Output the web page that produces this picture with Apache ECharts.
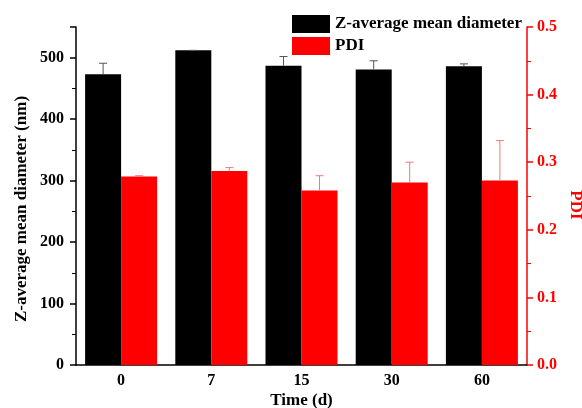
<!DOCTYPE html>
<html>
<head>
<meta charset="utf-8">
<script src="https://cdn.jsdelivr.net/npm/echarts@6/dist/echarts.min.js"></script>
<style>
  html, body { margin: 0; padding: 0; background: #fff; }
  #chart { width: 582px; height: 408px; }
</style>
</head>
<body>
<div id="chart"></div>
<script>
var days = ['0', '7', '15', '30', '60'];
var diameter = [473, 512, 487, 481, 486];
var diameterErr = [18, 0, 15, 14, 4];
var pdi = [0.279, 0.287, 0.258, 0.270, 0.273];
var pdiErr = [0.001, 0.005, 0.022, 0.030, 0.059];

var font = 'Liberation Serif';
var barW = 36;

function errData(vals, errs) {
  return vals.map(function (v, i) { return [i, v, errs[i]]; });
}

// side: -1 = left bar of the pair, 1 = right bar
function errorItem(side, color) {
  return function (params, api) {
    var i = api.value(0);
    var base = api.coord([i, api.value(1)]);
    var top = api.coord([i, api.value(1) + api.value(2)]);
    var x = base[0] + side * barW / 2;
    return {
      type: 'group',
      children: [
        { type: 'line', shape: { x1: x, y1: base[1], x2: x, y2: top[1] }, style: { stroke: color, lineWidth: 1 } },
        { type: 'line', shape: { x1: x - 4, y1: top[1], x2: x + 4, y2: top[1] }, style: { stroke: color, lineWidth: 1 } }
      ]
    };
  };
}

var chart = echarts.init(document.getElementById('chart'));
chart.setOption({
  animation: false,
  textStyle: { fontFamily: font },
  grid: { left: 76, right: 55, top: 27, bottom: 43, containLabel: false, outerBoundsMode: 'none' },
  legend: {
    data: ['Z-average mean diameter', 'PDI'],
    orient: 'vertical',
    left: 292,
    top: 15,
    padding: 0,
    itemWidth: 38,
    itemHeight: 18,
    itemGap: 4,
    icon: 'rect',
    textStyle: { fontFamily: font, fontSize: 17, fontWeight: 'bold', color: '#000' }
  },
  xAxis: [
    {
      type: 'category',
      data: days,
      position: 'bottom',
      name: 'Time (d)',
      nameLocation: 'middle',
      nameGap: 27,
      nameMoveOverlap: false,
      nameTextStyle: { fontFamily: font, fontSize: 17, fontWeight: 'bold', color: '#000' },
      axisLine: { lineStyle: { color: '#000', width: 1.5 } },
      axisTick: { alignWithLabel: true, length: 6, lineStyle: { color: '#000', width: 1.5 } },
      axisLabel: { fontFamily: font, fontSize: 16, fontWeight: 'bold', color: '#000', margin: 8 }
    },
    {
      type: 'category',
      data: days,
      position: 'bottom',
      axisLine: { show: false },
      axisTick: { inside: true, length: 4, lineStyle: { color: '#000', width: 1.5 } },
      axisLabel: { show: false }
    }
  ],
  yAxis: [
    {
      type: 'value',
      min: 0,
      max: 550,
      interval: 100,
      name: 'Z-average mean diameter (nm)',
      nameLocation: 'middle',
      nameGap: 46,
      nameMoveOverlap: false,
      nameTextStyle: { fontFamily: font, fontSize: 17, fontWeight: 'bold', color: '#000', padding: [0, 26, 0, 0] },
      axisLine: { show: true, lineStyle: { color: '#000', width: 1.5 } },
      axisTick: { show: true, length: 6, lineStyle: { color: '#000', width: 1.5 } },
      minorTick: { show: true, splitNumber: 2, length: 4, lineStyle: { color: '#000' } },
      axisLabel: { fontFamily: font, fontSize: 16, fontWeight: 'bold', color: '#000', margin: 12, showMaxLabel: false },
      splitLine: { show: false }
    },
    {
      type: 'value',
      min: 0,
      max: 0.5,
      interval: 0.1,
      position: 'right',
      name: 'PDI',
      nameLocation: 'middle',
      nameGap: 40,
      nameMoveOverlap: false,
      nameRotate: -90,
      nameTextStyle: { fontFamily: font, fontSize: 17, fontWeight: 'bold', color: '#ff0000', padding: [0, 0, 0, 18] },
      axisLine: { show: true, lineStyle: { color: '#ff0000', width: 1.5 } },
      axisTick: { show: true, length: 6, lineStyle: { color: '#ff0000', width: 1.5 } },
      minorTick: { show: true, splitNumber: 2, length: 4, lineStyle: { color: '#ff0000' } },
      axisLabel: {
        fontFamily: font, fontSize: 16, fontWeight: 'bold', color: '#ff0000', margin: 10,
        formatter: function (v) { return v.toFixed(1); }
      },
      splitLine: { show: false }
    }
  ],
  series: [
    {
      name: 'Z-average mean diameter',
      type: 'bar',
      data: diameter,
      barWidth: barW,
      barGap: '0%',
      itemStyle: { color: '#000' }
    },
    {
      name: 'PDI',
      type: 'bar',
      yAxisIndex: 1,
      data: pdi,
      barWidth: barW,
      barGap: '0%',
      itemStyle: { color: '#ff0000' }
    },
    {
      type: 'custom',
      renderItem: errorItem(-1, '#555'),
      data: errData(diameter, diameterErr),
      encode: { x: 0, y: 1 },
      z: 3
    },
    {
      type: 'custom',
      yAxisIndex: 1,
      renderItem: errorItem(1, '#f07878'),
      data: errData(pdi, pdiErr),
      encode: { x: 0, y: 1 },
      z: 3
    }
  ]
});
</script>
</body>
</html>
